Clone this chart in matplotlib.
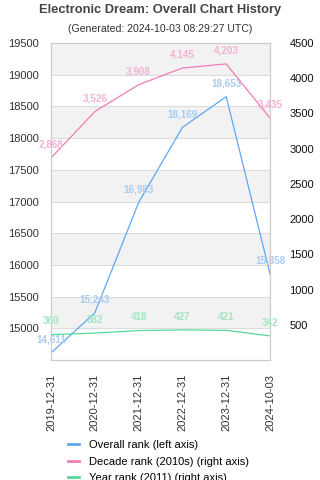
import matplotlib
matplotlib.use("Agg")
import matplotlib.pyplot as plt
from matplotlib.lines import Line2D

plt.rcParams["font.family"] = ["Liberation Sans", "DejaVu Sans"]

dates = ["2019-12-31", "2020-12-31", "2021-12-31", "2022-12-31", "2023-12-31", "2024-10-03"]
overall_rank = [14611, 15243, 16983, 18169, 18653, 15858]
decade_rank = [2868, 3526, 3908, 4145, 4203, 3435]
year_rank = [360, 382, 418, 427, 421, 342]

left_ticks = list(range(15000, 20000, 500))
right_ticks = list(range(500, 5000, 500))

BLUE, BLUE_LBL = "#5ea8f2", "#a8ccf2"
PINK, PINK_LBL = "#f07cb8", "#f4b2d4"
GREEN, GREEN_LBL = "#55d99a", "#a3e6c4"
GRID = "#dcdcdc"

fig = plt.figure(figsize=(3.2, 4.8), dpi=100)
ax1 = fig.add_axes([51 / 320, 1 - 360 / 480, 219 / 320, 317 / 480])
ax2 = ax1.twinx()

x = list(range(len(dates)))

# alternating bands
ax1.set_ylim(14500, 19500)
for lo in range(15000, 19500, 1000):
    ax1.axhspan(lo, lo + 500, color="#f2f2f2", zorder=0, linewidth=0)
for t in left_ticks:
    ax1.axhline(t, color=GRID, linewidth=0.8, zorder=0.5)

ax1.plot(x, overall_rank, color=BLUE, linewidth=0.9, zorder=2)
ax2.plot(x, decade_rank, color=PINK, linewidth=0.9, zorder=2)
ax2.plot(x, year_rank, color=GREEN, linewidth=0.9, zorder=2)

def label_points(ax, vals, color):
    for xi, v in zip(x, vals):
        ax.annotate(f"{v:,}", (xi, v), xytext=(0, 9.5), textcoords="offset points",
                    ha="center", va="center", fontsize=7.1, fontweight="bold",
                    color=color, zorder=3)

label_points(ax1, overall_rank, BLUE_LBL)
label_points(ax2, decade_rank, PINK_LBL)
label_points(ax2, year_rank, GREEN_LBL)

ax1.set_xlim(0, len(dates) - 1)
ax2.set_ylim(0, 4500)
ax1.set_yticks(left_ticks)
ax2.set_yticks(right_ticks)
ax1.set_xticks(x)
ax1.set_xticklabels(dates, rotation=90)

ax1.tick_params(axis="y", length=0, pad=9, labelsize=8, labelcolor="#333333")
ax2.tick_params(axis="y", length=0, pad=14, labelsize=8, labelcolor="#111111")
ax1.tick_params(axis="x", length=0, pad=10, labelsize=8, labelcolor="#333333")

for ax in (ax1, ax2):
    for s in ax.spines.values():
        s.set_color("#cccccc")
        s.set_linewidth(0.8)
ax2.patch.set_visible(False)

fig.text(0.5, 1 - 10 / 480, "Electronic Dream: Overall Chart History", ha="center", va="center",
         fontsize=9.3, fontweight="bold", color="#444444")
fig.text(0.5, 1 - 29 / 480, "(Generated: 2024-10-03 08:29:27 UTC)", ha="center", va="center",
         fontsize=7.6, color="#333333")

handles = [Line2D([], [], color=BLUE, linewidth=2),
           Line2D([], [], color=PINK, linewidth=2),
           Line2D([], [], color=GREEN, linewidth=2)]
labels = ["Overall rank (left axis)", "Decade rank (2010s) (right axis)", "Year rank (2011) (right axis)"]
fig.legend(handles, labels, loc="upper left", bbox_to_anchor=(68 / 320, 1 - 440 / 480),
           frameon=False, fontsize=8, handlelength=1.0, handletextpad=0.9,
           labelspacing=0.6, borderaxespad=0, borderpad=0)

fig.savefig("out.png", dpi=100)
